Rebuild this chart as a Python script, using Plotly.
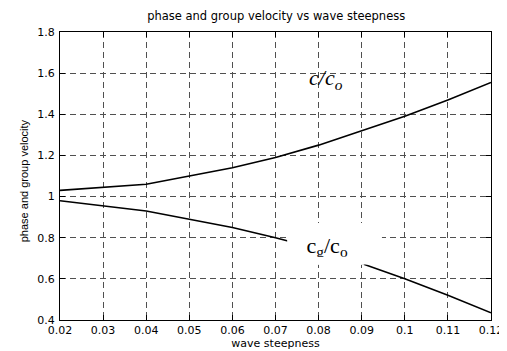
import plotly.graph_objects as go

# Data
steepness = [0.02, 0.03, 0.04, 0.05, 0.06, 0.07, 0.08, 0.09, 0.10, 0.11, 0.12]
phase_velocity = [1.03, 1.045, 1.06, 1.10, 1.14, 1.19, 1.25, 1.32, 1.39, 1.47, 1.555]
group_velocity = [0.98, 0.955, 0.93, 0.89, 0.85, 0.80, 0.745, 0.675, 0.60, 0.52, 0.435]

x_ticks = [0.02, 0.03, 0.04, 0.05, 0.06, 0.07, 0.08, 0.09, 0.10, 0.11, 0.12]
x_ticktext = ["0.02", "0.03", "0.04", "0.05", "0.06", "0.07", "0.08", "0.09", "0.1", "0.11", "0.12"]
y_ticks = [0.4, 0.6, 0.8, 1.0, 1.2, 1.4, 1.6, 1.8]
y_ticktext = ["0.4", "0.6", "0.8", "1", "1.2", "1.4", "1.6", "1.8"]

# white background box of the c_g/c_o label (data coordinates)
box_x = [0.0727, 0.0947, 0.0947, 0.0727, 0.0727]
box_y = [0.670, 0.670, 0.872, 0.872, 0.670]
# strip that hides the lower half of the subscripts
clip_box = dict(x0=0.0755, x1=0.0905, y0=0.669, y1=0.708)

fig = go.Figure()
fig.add_trace(go.Scatter(x=steepness, y=phase_velocity, mode="lines",
                         line=dict(color="black", width=1.6), showlegend=False,
                         hoverinfo="skip"))
fig.add_trace(go.Scatter(x=steepness, y=group_velocity, mode="lines",
                         line=dict(color="black", width=1.6), showlegend=False,
                         hoverinfo="skip"))
fig.add_trace(go.Scatter(x=box_x, y=box_y, mode="lines", fill="toself",
                         fillcolor="white", line=dict(width=0, color="white"),
                         showlegend=False, hoverinfo="skip"))
fig.add_trace(go.Scatter(x=[0.0772], y=[0.700], mode="text",
                         text=["c<sub>g</sub>/c<sub>o</sub>"], textposition="top right",
                         textfont=dict(family="Liberation Serif", size=22, color="black"),
                         showlegend=False, hoverinfo="skip"))

fig.add_shape(type="rect", xref="x", yref="y", layer="above",
              fillcolor="white", line=dict(width=0), **clip_box)

fig.add_annotation(x=0.0772, y=1.492, xref="x", yref="y", xanchor="left", yanchor="bottom",
                   text="<i>c/c<sub>o</sub></i>", showarrow=False,
                   font=dict(family="Liberation Serif", size=22, color="black"))

# y-axis title placed as a rotated annotation
fig.add_annotation(x=-0.0837, y=0.485, xref="paper", yref="paper",
                   xanchor="center", yanchor="middle", textangle=-90,
                   text="phase and group velocity", showarrow=False,
                   font=dict(family="Liberation Sans", size=11, color="black"))

axis_common = dict(showline=True, linecolor="black", linewidth=1, mirror="ticks",
                   ticks="inside", ticklen=5, tickcolor="black",
                   showgrid=True, gridcolor="#505050", gridwidth=1, griddash="6px,4px",
                   zeroline=False,
                   tickfont=dict(family="DejaVu Sans", size=11, color="black"))

fig.update_xaxes(range=[0.02, 0.12], tickvals=x_ticks, ticktext=x_ticktext,
                 title=dict(text="wave steepness", standoff=2,
                            font=dict(family="DejaVu Sans", size=11, color="black")),
                 **axis_common)
fig.update_yaxes(range=[0.4, 1.8], tickvals=y_ticks, ticktext=y_ticktext,
                 ticklabelstandoff=2,
                 **axis_common)

fig.update_layout(
    width=507, height=351,
    margin=dict(l=52, r=13, t=24, b=36),
    paper_bgcolor="white", plot_bgcolor="white",
    title=dict(text="phase and group velocity vs wave steepness", x=0.529, xanchor="center",
               y=1.0, yanchor="top", pad=dict(t=4),
               font=dict(family="DejaVu Sans", size=11.5, color="black")),
    showlegend=False,
)

fig.write_html("out.html")
